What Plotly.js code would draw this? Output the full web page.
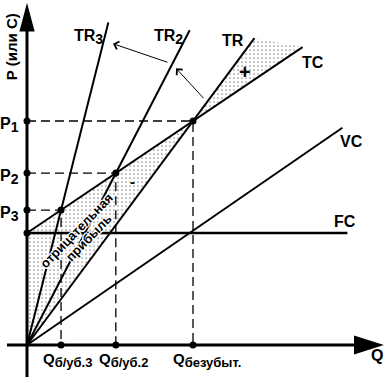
<!DOCTYPE html>
<html><head><meta charset="utf-8">
<script src="https://cdn.plot.ly/plotly-3.0.1.min.js"></script>
<style>body{margin:0;background:#fff}#c{width:385px;height:383px}</style>
</head><body><div id="c"></div>
<script>
// ---- data (arbitrary units) ----
const FC = 10;
const lineNames = ['TR3', 'TR2', 'TR', 'TC', 'VC', 'FC'];
const lineQ0 = [0, 0, 0, 0, 0, 0];
const lineP0 = [0, 0, 0, 10, 0, 10];
const lineQ1 = [4.9, 9.8, 13.7, 16.6, 19.0, 19.3];
const lineP1 = [28.8, 28.1, 27.4, 26.6, 19.4, 10];
const lineWidth = [2, 2, 2, 2, 2, 2.6];
// break-even points (TR3, TR2, TR with TC)
const beQ = [2.05, 5.35, 10];
const beP = [12.05, 15.35, 20];
const pSubs = ['3', '2', '1'];
const qSubs = ['б/уб.3', 'б/уб.2', 'безубыт.'];
const qShift = [-20, -19, -22];

const xr = [-1.627, 21.566], yr = [-3.393, 30.804];
const F = {family: 'Liberation Sans, Arial, sans-serif', size: 16, color: '#000', weight: 'bold'};
const halo = '1px 0 0 #fff, -1px 0 0 #fff, 0 1px 0 #fff, 0 -1px 0 #fff, 1px 1px 0 #fff, -1px -1px 0 #fff, 1px -1px 0 #fff, -1px 1px 0 #fff';
const pat = {shape: '.', size: 4, solidity: 0.06, fgcolor: '#000', bgcolor: '#fff'};
const sub = (t, s) => '<sub><span style="font-size:' + s + 'px">' + t + '</span></sub>';

const traces = [];
// negative-profit zone: y axis, FC intercept, break-even point
traces.push({x: [0, 0, beQ[2], 0], y: [0, FC, beP[2], 0], mode: 'none', fill: 'toself',
  fillcolor: 'rgba(0,0,0,0)', fillpattern: pat});
// positive-profit zone between TR and TC
traces.push({x: [beQ[2], lineQ1[2], lineQ1[3], beQ[2]], y: [beP[2], lineP1[2], lineP1[3], beP[2]],
  mode: 'none', fill: 'toself', fillcolor: 'rgba(0,0,0,0)', fillpattern: pat});
// dashed guides
for (let i = 0; i < beQ.length; i++) {
  traces.push({x: [0, beQ[i], beQ[i]], y: [beP[i], beP[i], 0], mode: 'lines',
    line: {color: '#000', width: 1.3, dash: '9px,5px'}});
}
// lines
for (let i = 0; i < lineNames.length; i++) {
  traces.push({x: [lineQ0[i], lineQ1[i]], y: [lineP0[i], lineP1[i]], mode: 'lines',
    line: {color: '#000', width: lineWidth[i]}});
}
// dots
traces.push({x: beQ.concat([0, 0, 0, 0], beQ), y: beP.concat(beP, [FC], [0, 0, 0]),
  mode: 'markers', marker: {color: '#000', size: 7}});

// axes drawn as shapes
const shapes = [
  {type: 'line', x0: xr[0] + 0.42, x1: 20, y0: 0, y1: 0, line: {color: '#000', width: 3}},
  {type: 'line', x0: 0, x1: 0, y0: yr[0] + 0.54, y1: 28.5, line: {color: '#000', width: 3}},
  {type: 'path', path: 'M -0.46,28.0 L 0.46,28.0 L 0,30.55 Z', fillcolor: '#000', line: {width: 0}},
  {type: 'path', path: 'M 19.70,-0.85 L 19.70,0.85 L 21.5,0 Z', fillcolor: '#000', line: {width: 0}}
];

const ann = [];
const T = (x, y, text, opts) => ann.push(Object.assign({x, y, text, showarrow: false, font: F}, opts || {}));
for (let i = 0; i < beP.length; i++) {
  T(0, beP[i], 'P' + sub(pSubs[i], 14), {xanchor: 'right', xshift: -6, yanchor: 'middle', yshift: -4});
  T(beQ[i], 0, 'Q' + sub(qSubs[i], 13), {xanchor: 'left', xshift: qShift[i], yanchor: 'top', yshift: -3,
    font: Object.assign({}, F, {size: 15})});
}
T(2.71, 27.9, 'TR' + sub('3', 14), {xanchor: 'left', yshift: -4});
T(7.53, 27.9, 'TR' + sub('2', 14), {xanchor: 'left', yshift: -4});
T(11.63, 27.2, 'TR', {xanchor: 'left'});
T(16.45, 25.2, 'TC', {xanchor: 'left'});
T(18.73, 18.2, 'VC', {xanchor: 'left'});
T(18.37, 11.0, 'FC', {xanchor: 'left'});
T(13.13, 24.4, '+', {font: Object.assign({}, F, {size: 20})});
T(6.33, 14.6, '-', {font: Object.assign({}, F, {size: 15})});
T(21.08, -0.98, 'Q', {});
T(-0.96, 26.6, 'P (или C)', {textangle: -90, font: Object.assign({}, F, {size: 15})});
const hf = Object.assign({}, F, {size: 13, shadow: halo});
T(3.01, 10.18, 'отрицательная', {textangle: -46, font: hf});
T(3.73, 9.6, 'прибыль', {textangle: -46, font: hf});
// thin arrows
ann.push({x: 8.98, y: 24.7, ax: 10.72, ay: 21.9, axref: 'x', ayref: 'y', text: '', showarrow: true,
  arrowhead: 4, arrowsize: 1.6, arrowwidth: 1, arrowcolor: '#000'});
ann.push({x: 5.18, y: 26.9, ax: 8.55, ay: 25.2, axref: 'x', ayref: 'y', text: '', showarrow: true,
  arrowhead: 4, arrowsize: 1.6, arrowwidth: 1, arrowcolor: '#000'});

const ax = {visible: false, showgrid: false, zeroline: false, fixedrange: true};
Plotly.newPlot('c', traces, {
  width: 385, height: 383, margin: {l: 0, r: 0, t: 0, b: 0},
  paper_bgcolor: '#fff', plot_bgcolor: '#fff', showlegend: false,
  font: F,
  xaxis: Object.assign({}, ax, {range: xr}),
  yaxis: Object.assign({}, ax, {range: yr}),
  shapes: shapes, annotations: ann
}, {staticPlot: true});
</script></body></html>
